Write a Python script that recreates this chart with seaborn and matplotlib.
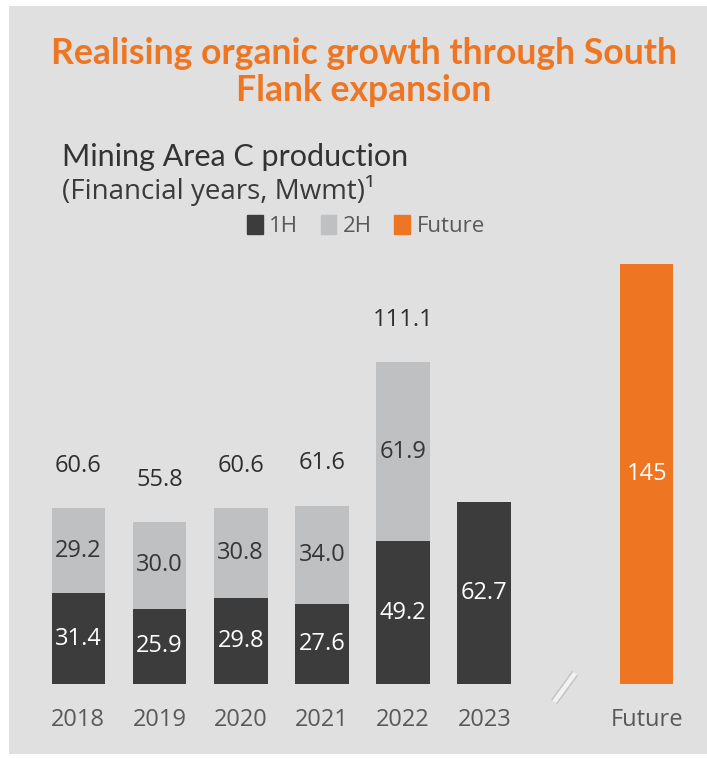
import numpy as np
import pandas as pd
import seaborn as sns
import matplotlib.pyplot as plt
from matplotlib.patches import Rectangle, Patch

# data
years = ['2018', '2019', '2020', '2021', '2022', '2023']
first_half = [31.4, 25.9, 29.8, 27.6, 49.2, 62.7]
second_half = [29.2, 30.0, 30.8, 34.0, 61.9, 0.0]
totals = ['60.6', '55.8', '60.6', '61.6', '111.1', '']
future_label = ['Future']
future_value = [145]

order = years + [' '] + future_label

dark = '#3c3c3c'
light = '#bfc0c2'
orange = '#ee7623'
panel = '#e0e0e0'
text_grey = '#595959'

sns.set_theme(style='white')
plt.rcParams['font.family'] = ['Open Sans', 'DejaVu Sans']

fig = plt.figure(figsize=(7.07, 7.58), dpi=100)
fig.patch.set_facecolor('white')
fig.patches.append(Rectangle((9 / 707, 4 / 758), 1 - 9 / 707, 1 - 10 / 758,
                             transform=fig.transFigure, facecolor=panel,
                             edgecolor='none', zorder=-10))

ax = fig.add_axes([29.6 / 707, 74 / 758, 665.8 / 707, 434.6 / 758])
ax.set_facecolor('none')

df = pd.DataFrame({'year': years, '1H': first_half, '2H': second_half})
df['stack'] = df['1H'] + df['2H']

# stacked bars: full height in light grey, 1H on top in dark
sns.barplot(data=df, x='year', y='stack', order=order, color=light,
            width=0.66, saturation=1, linewidth=0, ax=ax)
sns.barplot(data=df, x='year', y='1H', order=order, color=dark,
            width=0.66, saturation=1, linewidth=0, ax=ax)
sns.barplot(x=future_label, y=future_value, order=order, color=orange,
            width=0.66, saturation=1, linewidth=0, ax=ax)

# segment labels
for i, (h1, h2) in enumerate(zip(first_half, second_half)):
    ax.text(i, h1 / 2, '{:.1f}'.format(h1), ha='center', va='center',
            color='white', fontsize=17)
    if h2 > 0:
        ax.text(i, h1 + h2 / 2, '{:.1f}'.format(h2), ha='center', va='center',
                color='#363636', fontsize=17)
    if totals[i]:
        ax.text(i, h1 + h2 + 14.6, totals[i], ha='center', va='center',
                color='#2e2e2e', fontsize=17)
fut_pos = order.index('Future')
ax.text(fut_pos, future_value[0] / 2, str(future_value[0]), ha='center',
        va='center', color='white', fontsize=17)

# axis break marker
brk = order.index(' ')
ax.plot([brk - 0.14, brk + 0.12], [-6.2, 3.8], color='#c4c4c4', lw=5.5,
        solid_capstyle='butt', clip_on=False)
ax.plot([brk - 0.14, brk + 0.12], [-6.2, 3.8], color='#f2f2f2', lw=3.3,
        solid_capstyle='butt', clip_on=False)

ax.set_xlim(-0.6, 7.6)
ax.set_ylim(0, 150)
ax.set_xlabel('')
ax.set_ylabel('')
ax.set_yticks([])
ax.tick_params(axis='x', length=0, pad=17, labelsize=17, labelcolor=text_grey)
sns.despine(ax=ax, left=True, bottom=True)

# titles
fig.text(364 / 707, 1 - 72 / 758,
         'Realising organic growth through South\nFlank expansion',
         ha='center', va='center', color=orange, fontsize=25.6,
         fontweight='bold', linespacing=1.15,
         family=['Lato', 'DejaVu Sans'])
fig.text(62 / 707, 1 - 157 / 758, 'Mining Area C production', ha='left',
         va='center', color='#333333', fontsize=22,
         family=['Lato', 'DejaVu Sans'])
fig.text(62 / 707, 1 - 190 / 758, '(Financial years, Mwmt)\u00b9', ha='left',
         va='center', color='#3a3a3a', fontsize=20)

handles = [Patch(color=dark, label='1H'), Patch(color=light, label='2H'),
           Patch(color=orange, label='Future')]
leg = fig.legend(handles=handles, loc='center', ncol=3,
                 bbox_to_anchor=(366 / 707, 1 - 226 / 758), frameon=False,
                 fontsize=16, handlelength=0.7, handleheight=0.9,
                 handletextpad=0.3, columnspacing=1.0)
for t in leg.get_texts():
    t.set_color(text_grey)

fig.savefig('out.png', dpi=100)
